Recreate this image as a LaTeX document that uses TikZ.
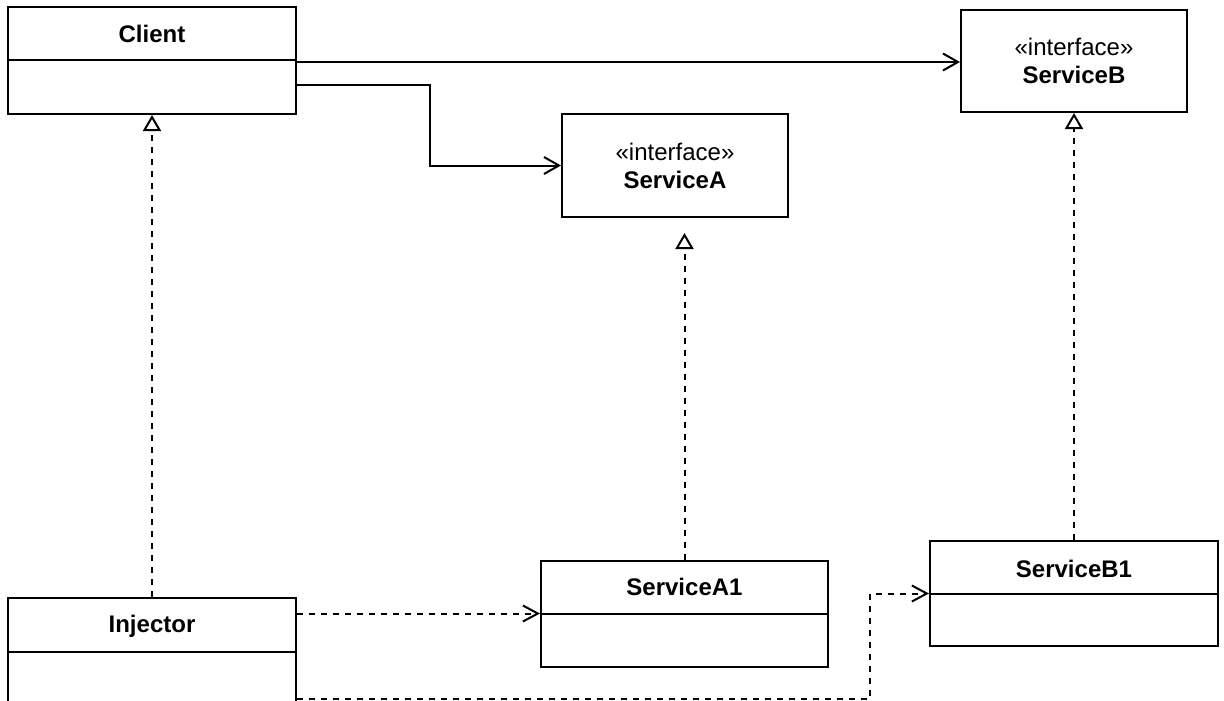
\documentclass[tikz,border=0pt]{standalone}
\usepackage{fontspec}
\setmainfont{Liberation Sans}
\usetikzlibrary{arrows.meta,calc}
\begin{document}
\begin{tikzpicture}[x=1pt,y=-1pt,
  every node/.style={font=\fontsize{24pt}{28pt}\selectfont},
  box/.style={draw, line width=2pt, fill=white, inner sep=0pt, align=center},
  title/.style={font=\fontsize{24pt}{28pt}\selectfont\bfseries, inner sep=0pt},
  conn/.style={line width=2pt},
  assoc/.style={conn, -{Straight Barb[length=15pt,width=17pt]}},
  dep/.style={conn, dash pattern=on 6pt off 6pt, -{Straight Barb[length=15pt,width=16pt]}},
  real/.style={conn, dash pattern=on 6pt off 6pt, -{Triangle[open,length=16pt,width=18pt,fill=white]}}
]
\useasboundingbox (0,0) rectangle (1224,701);
\clip (0,0) rectangle (1224,701);

% boxes
\node[box, minimum width=288pt, minimum height=107pt] (client) at (152,60.5) {};
\draw[line width=2pt] (client.west) -- (client.east);
\node[title] (clientlabel) at ([yshift=-1pt]$(client.north)!0.25!(client.south)$) {Client};

\node[box, minimum width=226pt, minimum height=102pt] (serviceB) at (1074,61)
  {«interface»\\\textbf{ServiceB}};

\node[box, minimum width=226pt, minimum height=103pt] (serviceA) at (675,165.5)
  {«interface»\\\textbf{ServiceA}};

\node[box, minimum width=288pt, minimum height=107pt] (injector) at (152,651.5) {};
\draw[line width=2pt] (injector.west) -- (injector.east);
\node[title] (injectorlabel) at ([yshift=-2pt]$(injector.north)!0.25!(injector.south)$) {Injector};

\node[box, minimum width=287pt, minimum height=106pt] (serviceA1) at (684.5,614) {};
\draw[line width=2pt] (serviceA1.west) -- (serviceA1.east);
\node[title] (serviceA1label) at ($(serviceA1.north)!0.25!(serviceA1.south)$) {ServiceA1};

\node[box, minimum width=288pt, minimum height=105pt] (serviceB1) at (1074,593.5) {};
\draw[line width=2pt] (serviceB1.west) -- (serviceB1.east);
\node[title] (serviceB1label) at ([yshift=-2pt]$(serviceB1.north)!0.25!(serviceB1.south)$) {ServiceB1};

% connectors
\draw[assoc] ([yshift=-1.5pt]client.east) coordinate (cb) -- (cb -| serviceB.west);
\draw[assoc] ([yshift=-25pt]client.east) -- ++(133,0) |- (serviceA.west);
\draw[real] (injector.north) -- (client.south);
\draw[real, shorten >=15pt] (serviceA1.north) -- (serviceA1.north |- serviceA.south);
\draw[real] (serviceB1.north) -- (serviceB.south);
\draw[dep] ([yshift=38pt]injector.east) coordinate (ia) -- (ia -| serviceA1.west);
\draw[dep] ([yshift=-47.5pt]injector.east) -- ++(573,0) |- (serviceB1.west);
\end{tikzpicture}
\end{document}
